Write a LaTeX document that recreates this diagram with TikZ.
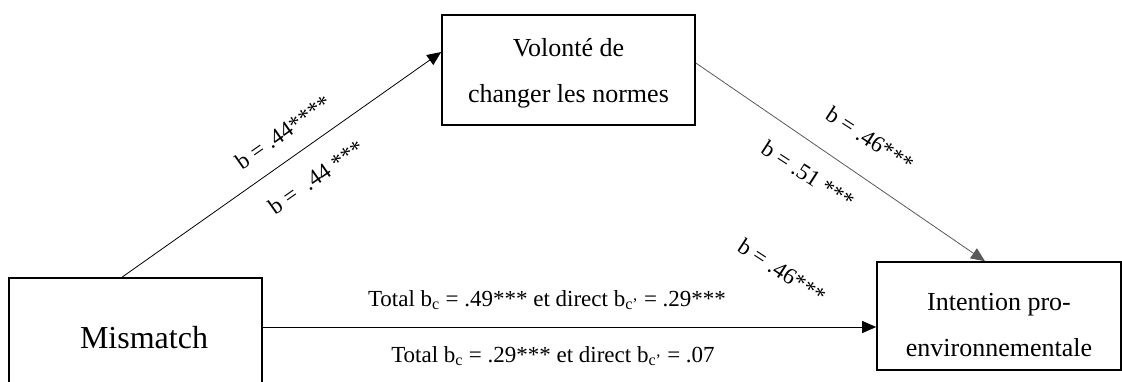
\documentclass[tikz,border=0pt]{standalone}
\usepackage{fontspec}
\setmainfont{Liberation Serif}
\usetikzlibrary{arrows.meta}

\tikzset{
  varbox/.style={draw, line width=1.6pt, inner sep=0pt},
  boxtext/.style={align=center, inner sep=0pt, font=\fontsize{26}{46}\selectfont},
  effect/.style={line width=0.8pt, -{Triangle[length=14pt,width=12pt]}},
  coef/.style={inner sep=0pt, font=\fontsize{23}{26}\selectfont},
}

\begin{document}
\begin{tikzpicture}[x=1pt,y=-1pt]
\useasboundingbox (0,0) rectangle (1122,381);
\clip (0,0) rectangle (1122,381);

% variables
\node[varbox, minimum width=253pt, minimum height=110pt] (vol) at (568.5,70) {};
\node[boxtext] (volT) at (568.5,73) {Volonté de\\changer les normes};

\node[varbox, minimum width=253pt, minimum height=118pt] (mis) at (135.5,337) {};
\node[font=\fontsize{32}{36}\selectfont, inner sep=0pt] (misT) at (144,338) {Mismatch};

\node[varbox, minimum width=244pt, minimum height=108pt] (int) at (999,316) {};
\node[boxtext] (intT) at (999,325) {Intention pro-\\environnementale};

% paths
\coordinate (h) at ([yshift=10pt]mis.east);
\draw[effect] ([xshift=-13.5pt]mis.north) -- ([yshift=18pt]vol.west);
\draw[effect, draw=black!65] ([yshift=7pt]vol.east) -- ([xshift=-14pt]int.north);
\draw[effect] (h) -- (h -| int.west);

% coefficients
\node[coef, rotate=35] (a1) at (283,132) {b = .44****};
\node[coef, rotate=35] (a2) at (316,177) {b = \ .44 ***};
\node[coef, rotate=-33] (b1) at (870,139) {b = .46***};
\node[coef, rotate=-33] (b2) at (808,175) {b = .51 ***};
\node[coef, rotate=-33] (b3) at (782,271) {b = .46***};

\node[coef] (c1) at (547,300) {Total b\textsubscript{c} = .49*** et direct b\textsubscript{c’} = .29***};
\node[coef] (c2) at (553,356) {Total b\textsubscript{c} = .29*** et direct b\textsubscript{c’} = .07};
\end{tikzpicture}
\end{document}
